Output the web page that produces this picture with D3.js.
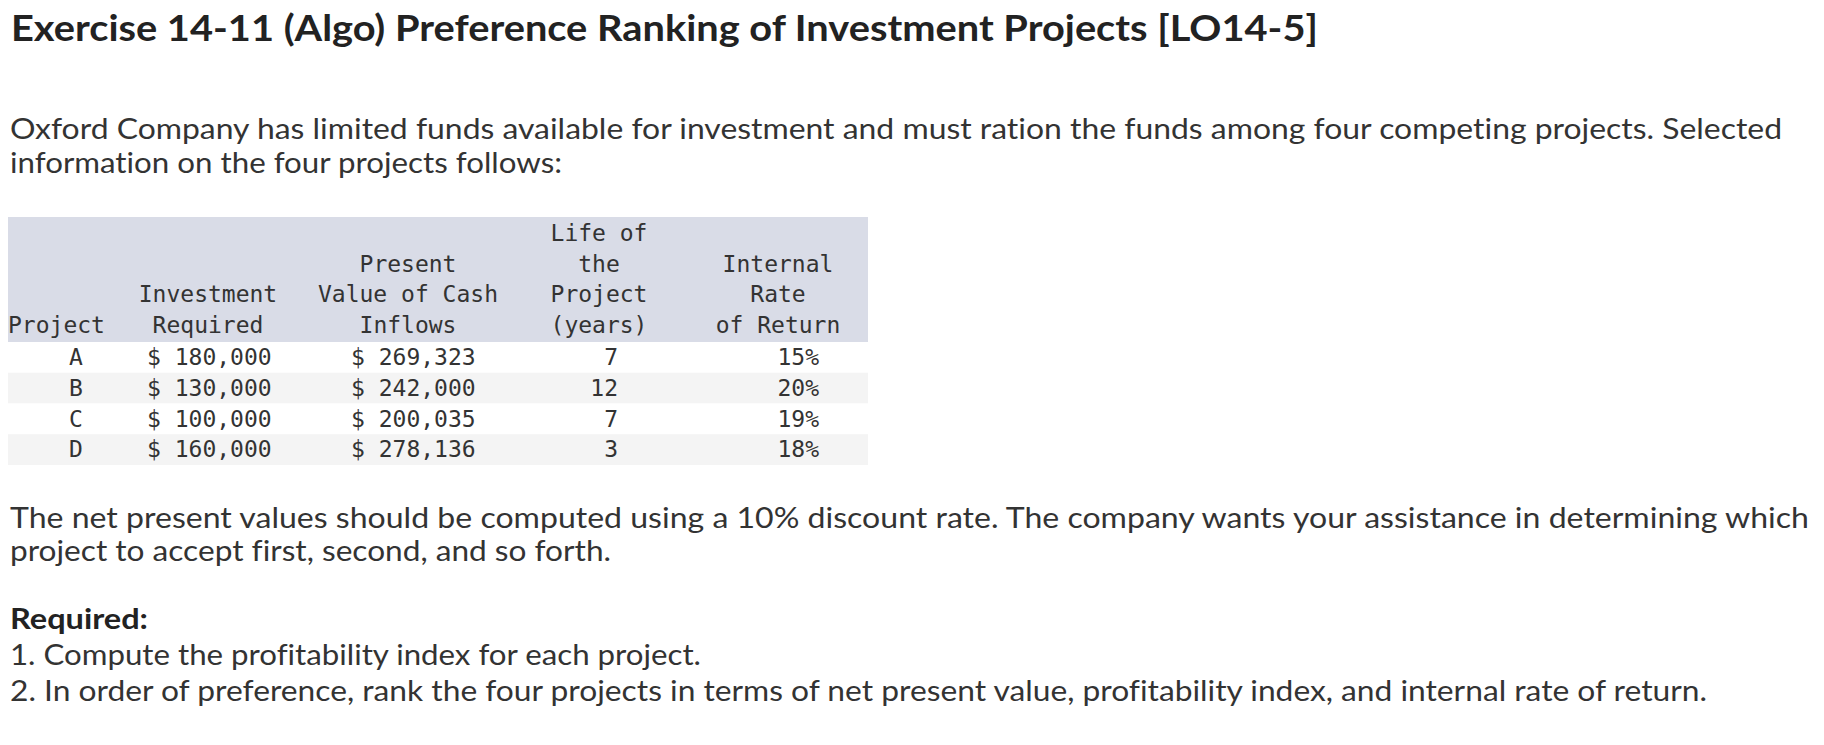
<!DOCTYPE html>
<html>
<head>
<meta charset="utf-8">
<script src="https://cdn.jsdelivr.net/npm/d3@7"></script>
<style>
html,body{margin:0;padding:0;background:#fff;}
svg{display:block;}
text{font-variant-ligatures:none;}
</style>
</head>
<body>
<svg id="chart" width="1824" height="745"></svg>
<script>
// ---- data ----
const titleText = "Exercise 14-11 (Algo) Preference Ranking of Investment Projects [LO14-5]";
const introLines = [
  "Oxford Company has limited funds available for investment and must ration the funds among four competing projects. Selected",
  "information on the four projects follows:"
];
const projects = ["A", "B", "C", "D"];
const investmentRequired = [180000, 130000, 100000, 160000];
const pvCashInflows = [269323, 242000, 200035, 278136];
const lifeYears = [7, 12, 7, 3];
const irrPercent = [15, 20, 19, 18];
const headerProject = ["Project"];
const headerInvestment = ["Investment", "Required"];
const headerPV = ["Present", "Value of Cash", "Inflows"];
const headerLife = ["Life of", "the", "Project", "(years)"];
const headerIRR = ["Internal", "Rate", "of Return"];
const noteLines = [
  "The net present values should be computed using a 10% discount rate. The company wants your assistance in determining which",
  "project to accept first, second, and so forth."
];
const requiredLabel = "Required:";
const requiredItems = [
  "1. Compute the profitability index for each project.",
  "2. In order of preference, rank the four projects in terms of net present value, profitability index, and internal rate of return."
];

// ---- drawing ----
const svg = d3.select("#chart");
const sans = "Lato, 'Open Sans', sans-serif";
const mono = "'DejaVu Sans Mono', monospace";
const money = d3.format(",");

function fitWidth(sel, w) {
  sel.each(function () {
    const cur = this.getComputedTextLength();
    if (Math.abs(cur - w) > 1) {
      d3.select(this).attr("textLength", w).attr("lengthAdjust", "spacingAndGlyphs");
    }
  });
}

// Title
svg.append("text")
  .attr("x", 11).attr("y", 41)
  .attr("font-family", sans).attr("font-weight", 700).attr("font-size", 36)
  .attr("fill", "#222")
  .text(titleText)
  .call(fitWidth, 1307);

// Intro paragraph
const introWidths = [1772, 552];
svg.selectAll("text.intro").data(introLines).join("text")
  .attr("class", "intro")
  .attr("x", 10).attr("y", (d, i) => 139 + i * 34)
  .attr("font-family", sans).attr("font-size", 29).attr("fill", "#333")
  .text(d => d)
  .each(function (d, i) { d3.select(this).call(fitWidth, introWidths[i]); });

// Table
const tableLeft = 8, tableRight = 868;
const headerTop = 217, headerBottom = 342, tableBottom = 465;
const y = d3.scaleBand().domain(projects).range([headerBottom, tableBottom]);
const headerLineY = d3.scaleLinear().domain([0, 3]).range([241, 333]);

svg.append("rect")
  .attr("x", tableLeft).attr("y", headerTop)
  .attr("width", tableRight - tableLeft).attr("height", headerBottom - headerTop)
  .attr("fill", "#d9dce7");

svg.selectAll("rect.row").data(projects).join("rect")
  .attr("class", "row")
  .attr("x", tableLeft).attr("y", d => y(d))
  .attr("width", tableRight - tableLeft).attr("height", y.bandwidth())
  .attr("fill", (d, i) => i % 2 === 1 ? "#f4f4f4" : "#ffffff");

const headerCols = [
  { lines: headerProject, x: 8, anchor: "start" },
  { lines: headerInvestment, x: 208, anchor: "middle" },
  { lines: headerPV, x: 408, anchor: "middle" },
  { lines: headerLife, x: 599, anchor: "middle" },
  { lines: headerIRR, x: 778, anchor: "middle" }
];
headerCols.forEach(col => {
  const offset = 4 - col.lines.length;
  svg.selectAll(null).data(col.lines).join("text")
    .attr("x", col.x).attr("y", (d, i) => headerLineY(i + offset))
    .attr("text-anchor", col.anchor)
    .attr("font-family", mono).attr("font-size", 23).attr("fill", "#333")
    .text(d => d);
});

const rows = projects.map((p, i) => ({
  p, inv: investmentRequired[i], pv: pvCashInflows[i], life: lifeYears[i], irr: irrPercent[i]
}));
const cellCols = [
  { f: r => r.p, x: 76, anchor: "middle" },
  { f: r => "$ " + money(r.inv), x: 147, anchor: "start" },
  { f: r => "$ " + money(r.pv), x: 351, anchor: "start" },
  { f: r => String(r.life), x: 618, anchor: "end" },
  { f: r => r.irr + "%", x: 819, anchor: "end" }
];
cellCols.forEach(col => {
  svg.selectAll(null).data(rows).join("text")
    .attr("x", col.x).attr("y", r => y(r.p) + 23)
    .attr("text-anchor", col.anchor)
    .attr("font-family", mono).attr("font-size", 23).attr("fill", "#333")
    .text(col.f);
});

// Note paragraph
const noteWidths = [1799, 601];
svg.selectAll("text.note").data(noteLines).join("text")
  .attr("class", "note")
  .attr("x", 10).attr("y", (d, i) => 528 + i * 33)
  .attr("font-family", sans).attr("font-size", 29).attr("fill", "#333")
  .text(d => d)
  .each(function (d, i) { d3.select(this).call(fitWidth, noteWidths[i]); });

// Required
svg.append("text")
  .attr("x", 10).attr("y", 629)
  .attr("font-family", sans).attr("font-weight", 700).attr("font-size", 29).attr("fill", "#222")
  .text(requiredLabel)
  .call(fitWidth, 138);

const reqWidths = [691, 1697];
svg.selectAll("text.req").data(requiredItems).join("text")
  .attr("class", "req")
  .attr("x", 10).attr("y", (d, i) => 665 + i * 36)
  .attr("font-family", sans).attr("font-size", 29).attr("fill", "#333")
  .text(d => d)
  .each(function (d, i) { d3.select(this).call(fitWidth, reqWidths[i]); });
</script>
</body>
</html>
